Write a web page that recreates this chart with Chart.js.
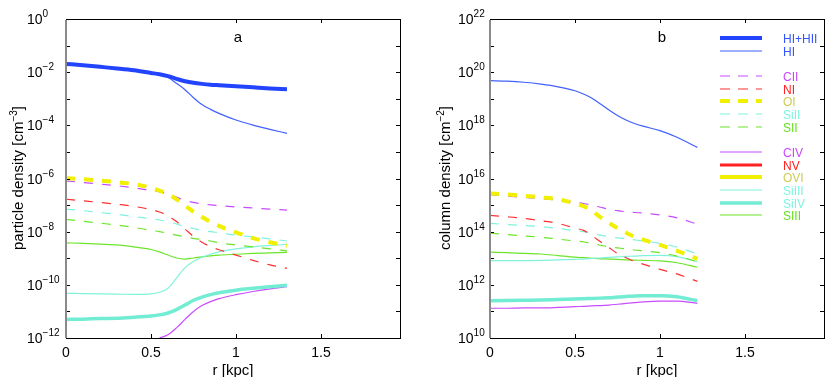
<!DOCTYPE html>
<html>
<head>
<meta charset="utf-8">
<script src="https://cdn.jsdelivr.net/npm/chart.js@4.4.1/dist/chart.umd.min.js"></script>
<style>
html, body { margin: 0; padding: 0; background: #fff; }
body { width: 830px; height: 377px; overflow: hidden; position: relative; font-family: 'Liberation Sans', Arial, sans-serif; }
.panel { position: absolute; top: 0; width: 415px; height: 390px; }
.panel canvas { display: block; }
#wrapA { left: 0; }
#wrapB { left: 415px; }
#overlay { position: absolute; left: 0; top: 0; pointer-events: none; }
</style>
</head>
<body>
<div class="panel" id="wrapA"><canvas id="chartA" width="415" height="390"></canvas></div>
<div class="panel" id="wrapB"><canvas id="chartB" width="415" height="390"></canvas></div>
<svg id="overlay" width="830" height="377" xmlns="http://www.w3.org/2000/svg"></svg>
<script>
// r [kpc] grids
const rA = [0, 0.1, 0.2, 0.3, 0.4, 0.5, 0.55, 0.6, 0.65, 0.7, 0.75, 0.8, 0.85, 0.9, 1.0, 1.1, 1.2, 1.3];
const rB = [0, 0.1, 0.2, 0.3, 0.4, 0.5, 0.55, 0.6, 0.65, 0.7, 0.75, 0.8, 0.85, 0.9, 1.0, 1.1, 1.22];

// panel a: log10 particle density [cm^-3]
const aHIHII = [-1.69, -1.74, -1.80, -1.86, -1.93, -2.03, -2.08, -2.15, -2.25, -2.34, -2.40, -2.44, -2.47, -2.49, -2.53, -2.57, -2.61, -2.64];
const aHI    = [-1.69, -1.74, -1.80, -1.86, -1.93, -2.03, -2.09, -2.20, -2.42, -2.66, -2.96, -3.22, -3.40, -3.55, -3.80, -3.99, -4.15, -4.30];
const aCII   = [-6.09, -6.15, -6.21, -6.27, -6.35, -6.45, -6.50, -6.58, -6.70, -6.82, -6.90, -6.95, -6.99, -7.02, -7.07, -7.11, -7.15, -7.19];
const aNI    = [-6.78, -6.84, -6.90, -6.97, -7.05, -7.17, -7.26, -7.40, -7.62, -7.90, -8.18, -8.40, -8.56, -8.68, -8.88, -9.08, -9.25, -9.38];
const aOI    = [-5.99, -6.03, -6.08, -6.14, -6.21, -6.35, -6.46, -6.60, -6.78, -7.02, -7.25, -7.45, -7.63, -7.78, -8.03, -8.24, -8.40, -8.53];
const aSiII  = [-7.15, -7.21, -7.28, -7.35, -7.43, -7.52, -7.56, -7.62, -7.71, -7.81, -7.88, -7.95, -8.00, -8.04, -8.13, -8.20, -8.27, -8.35];
const aSII   = [-7.54, -7.61, -7.68, -7.75, -7.84, -7.95, -8.00, -8.06, -8.13, -8.19, -8.25, -8.30, -8.35, -8.42, -8.50, -8.57, -8.65, -8.72];
const aCIV   = [null, null, null, null, null, null, -12.0, -11.88, -11.62, -11.30, -11.00, -10.78, -10.63, -10.52, -10.37, -10.25, -10.15, -10.07];
const aSiIII = [-10.32, -10.33, -10.34, -10.35, -10.36, -10.34, -10.28, -10.13, -9.75, -9.35, -9.12, -8.96, -8.85, -8.76, -8.65, -8.57, -8.52, -8.48];
const aSiIV  = [-11.30, -11.29, -11.27, -11.26, -11.22, -11.17, -11.13, -11.06, -10.93, -10.76, -10.58, -10.46, -10.37, -10.30, -10.20, -10.13, -10.07, -10.02];
const aSIII  = [-8.42, -8.44, -8.47, -8.50, -8.57, -8.67, -8.76, -8.88, -8.99, -9.03, -8.99, -8.95, -8.91, -8.88, -8.85, -8.82, -8.80, -8.78];

// panel b: log10 column density [cm^-2]
const bHI    = [19.68, 19.66, 19.62, 19.55, 19.45, 19.30, 19.18, 19.02, 18.80, 18.58, 18.37, 18.20, 18.07, 17.97, 17.80, 17.55, 17.17];
const bCII   = [15.39, 15.34, 15.29, 15.24, 15.18, 15.10, 15.06, 15.00, 14.92, 14.84, 14.79, 14.75, 14.72, 14.70, 14.63, 14.52, 14.28];
const bNI    = [14.61, 14.56, 14.50, 14.41, 14.31, 14.13, 14.05, 13.85, 13.62, 13.40, 13.18, 13.02, 12.88, 12.78, 12.58, 12.41, 12.13];
const bOI    = [15.44, 15.40, 15.35, 15.29, 15.22, 15.06, 14.96, 14.78, 14.54, 14.33, 14.13, 13.96, 13.81, 13.70, 13.50, 13.28, 12.98];
const bSiII  = [14.31, 14.27, 14.23, 14.19, 14.12, 14.04, 14.00, 13.93, 13.87, 13.81, 13.77, 13.73, 13.69, 13.65, 13.56, 13.42, 13.16];
const bSII   = [13.94, 13.89, 13.84, 13.79, 13.72, 13.65, 13.62, 13.55, 13.49, 13.43, 13.39, 13.35, 13.31, 13.28, 13.21, 13.08, 12.87];
const bCIV   = [11.12, 11.12, 11.13, 11.13, 11.15, 11.18, 11.19, 11.21, 11.22, 11.24, 11.27, 11.30, 11.33, 11.36, 11.39, 11.39, 11.30];
const bSiIII = [12.91, 12.91, 12.91, 12.92, 12.94, 12.96, 12.97, 12.99, 13.01, 13.03, 13.05, 13.07, 13.08, 13.10, 13.11, 13.06, 12.87];
const bSiIV  = [11.40, 11.41, 11.42, 11.43, 11.45, 11.47, 11.48, 11.49, 11.50, 11.51, 11.54, 11.56, 11.58, 11.59, 11.59, 11.55, 11.40];
const bSIII  = [13.23, 13.21, 13.18, 13.16, 13.10, 13.04, 13.02, 13.00, 12.98, 12.97, 12.96, 12.94, 12.93, 12.92, 12.90, 12.83, 12.66];

// axis ticks (y labels are 10^exp, only every second decade labelled)
const xTicks = [0, 0.5, 1, 1.5];
const yExpA = [-12, -11, -10, -9, -8, -7, -6, -5, -4, -3, -2, -1, 0];
const yLabA = ['−12', '', '−10', '', '−8', '', '−6', '', '−4', '', '−2', '', '0'];
const yExpB = [10, 11, 12, 13, 14, 15, 16, 17, 18, 19, 20, 21, 22];
const yLabB = ['10', '', '12', '', '14', '', '16', '', '18', '', '20', '', '22'];

// legend entries
const legendKeys = ['HIHII', 'HI', 'CII', 'NI', 'OI', 'SiII', 'SII', 'CIV', 'NV', 'OVI', 'SiIII', 'SiIV', 'SIII'];
const legendText = ['HI+HII', 'HI', 'CII', 'NI', 'OI', 'SiII', 'SII', 'CIV', 'NV', 'OVI', 'SiIII', 'SiIV', 'SIII'];

const styles = {
    HIHII: { color: '#2244ff', width: 4,   dash: [],     text: '#3355ff' },
    HI:    { color: '#4060ff', width: 1.2, dash: [],     text: '#3355ff' },
    CII:   { color: '#c84cff', width: 1.2, dash: [9, 9], text: '#cc44ff' },
    NI:    { color: '#ff3030', width: 1.2, dash: [9, 9], text: '#ff2020' },
    OI:    { color: '#f0f000', width: 4,   dash: [9, 9], text: '#cfcb55' },
    SiII:  { color: '#80f2dc', width: 1.2, dash: [9, 9], text: '#80f4e0' },
    SII:   { color: '#6be52a', width: 1.2, dash: [9, 9], text: '#66e020' },
    CIV:   { color: '#c84cff', width: 1.2, dash: [],     text: '#cc44ff' },
    NV:    { color: '#ff2020', width: 3,   dash: [],     text: '#ff2020' },
    OVI:   { color: '#f0f000', width: 4,   dash: [],     text: '#cfcb55' },
    SiIII: { color: '#80f2dc', width: 1.2, dash: [],     text: '#80f4e0' },
    SiIV:  { color: '#72ecd2', width: 3.5, dash: [],     text: '#80f4e0' },
    SIII:  { color: '#6be52a', width: 1.2, dash: [],     text: '#66e020' }
};

Chart.defaults.font.family = "'Liberation Sans', Arial, sans-serif";
Chart.defaults.color = '#000';

function makeSet(xs, logs, key) {
    const s = styles[key];
    return {
        label: key,
        data: xs.map((x, i) => ({ x: x, y: logs[i] == null ? null : Math.pow(10, logs[i]) })),
        borderColor: s.color,
        borderWidth: s.width,
        borderDash: s.dash,
        borderCapStyle: 'butt',
        pointRadius: 0,
        fill: false,
        cubicInterpolationMode: 'monotone'
    };
}

// inward tick marks and box, matlab style
const framePlugin = {
    id: 'frameBox',
    afterDraw(chart) {
        const ctx = chart.ctx;
        const a = chart.chartArea;
        const xs = chart.scales.x, ys = chart.scales.y;
        ctx.save();
        ctx.setLineDash([]);
        ctx.strokeStyle = '#000';
        ctx.lineWidth = 1;
        ctx.beginPath();
        xTicks.forEach(v => {
            const px = Math.round(xs.getPixelForValue(v)) + 0.5;
            ctx.moveTo(px, a.bottom); ctx.lineTo(px, a.bottom - 4);
            ctx.moveTo(px, a.top); ctx.lineTo(px, a.top + 4);
        });
        ys.ticks.forEach(t => {
            const py = Math.round(ys.getPixelForValue(t.value)) + 0.5;
            ctx.moveTo(a.left, py); ctx.lineTo(a.left + 4, py);
            ctx.moveTo(a.right, py); ctx.lineTo(a.right - 4, py);
        });
        ctx.stroke();
        ctx.strokeRect(Math.round(a.left) + 0.5, Math.round(a.top) + 0.5, Math.round(a.right - a.left), Math.round(a.bottom - a.top));
        ctx.strokeStyle = '#8a8a8a';
        ctx.lineWidth = 2;
        ctx.beginPath();
        ctx.moveTo(Math.round(a.left), a.top + 1);
        ctx.lineTo(Math.round(a.left), a.bottom);
        ctx.stroke();
        ctx.restore();
    }
};

function makeChart(id, datasets, yMin, yMax, yExp, axisW, rightPad) {
    return new Chart(document.getElementById(id), {
        type: 'line',
        data: { datasets: datasets },
        options: {
            responsive: false,
            animation: false,
            events: [],
            layout: { padding: { left: 0, right: rightPad, top: 19, bottom: 0 } },
            plugins: { legend: { display: false }, tooltip: { enabled: false } },
            scales: {
                x: {
                    type: 'linear',
                    min: 0,
                    max: 1.965,
                    afterBuildTicks: s => { s.ticks = xTicks.map(v => ({ value: v })); },
                    afterFit: s => { s.height = 52; },
                    grid: { display: false, drawTicks: false },
                    border: { display: false },
                    ticks: { font: { size: 14 }, padding: 7, maxRotation: 0, autoSkip: false, callback: v => String(v) },
                    title: { display: true, text: 'r [kpc]', font: { size: 15 }, padding: { top: 0, bottom: 10 } }
                },
                y: {
                    type: 'logarithmic',
                    min: yMin,
                    max: yMax,
                    afterBuildTicks: s => { s.ticks = yExp.map(e => ({ value: Math.pow(10, e) })); },
                    afterFit: s => { s.width = axisW; },
                    grid: { display: false, drawTicks: false },
                    border: { display: false },
                    ticks: { display: false }
                }
            }
        },
        plugins: [framePlugin]
    });
}

const chartA = makeChart('chartA', [
    makeSet(rA, aHIHII, 'HIHII'),
    makeSet(rA, aHI, 'HI'),
    makeSet(rA, aOI, 'OI'),
    makeSet(rA, aCII, 'CII'),
    makeSet(rA, aNI, 'NI'),
    makeSet(rA, aSiII, 'SiII'),
    makeSet(rA, aSII, 'SII'),
    makeSet(rA, aSiIV, 'SiIV'),
    makeSet(rA, aCIV, 'CIV'),
    makeSet(rA, aSiIII, 'SiIII'),
    makeSet(rA, aSIII, 'SIII')
], 1e-12, 1, yExpA, 66, 15);

const chartB = makeChart('chartB', [
    makeSet(rB, bHI, 'HI'),
    makeSet(rB, bOI, 'OI'),
    makeSet(rB, bCII, 'CII'),
    makeSet(rB, bNI, 'NI'),
    makeSet(rB, bSiII, 'SiII'),
    makeSet(rB, bSII, 'SII'),
    makeSet(rB, bSiIV, 'SiIV'),
    makeSet(rB, bCIV, 'CIV'),
    makeSet(rB, bSiIII, 'SiIII'),
    makeSet(rB, bSIII, 'SIII')
], 1e10, 1e22, yExpB, 75, 6);

// panel letters, y tick labels, y titles and legend as svg text
const svg = document.getElementById('overlay');
const NS = 'http://www.w3.org/2000/svg';
const FONT = "'Liberation Sans', Arial, sans-serif";
function el(name, attrs, text) {
    const e = document.createElementNS(NS, name);
    Object.keys(attrs).forEach(k => e.setAttribute(k, attrs[k]));
    if (text != null) e.textContent = text;
    return e;
}
function addText(x, y, str, size, color, anchor) {
    const t = el('text', { x: x, y: y, 'font-family': FONT, 'font-size': size, fill: color, 'text-anchor': anchor, 'dominant-baseline': 'central' }, str);
    svg.appendChild(t);
    return t;
}
function addPow(x, y, exp) {
    const t = el('text', { x: x, y: y + 5, 'font-family': FONT, 'font-size': 14, fill: '#000' });
    t.appendChild(el('tspan', {}, '10'));
    t.appendChild(el('tspan', { 'font-size': 10, dy: -7 }, exp));
    svg.appendChild(t);
}
function yLabels(chart, offsetX, labelX, exps, labs) {
    const ys = chart.scales.y;
    exps.forEach((e, i) => {
        if (!labs[i]) return;
        addPow(offsetX + labelX, Math.round(ys.getPixelForValue(Math.pow(10, e))), labs[i]);
    });
}
function addYTitle(cx, cy, main, exp) {
    const t = el('text', { transform: 'translate(' + cx + ',' + cy + ') rotate(-90)', 'font-family': FONT, 'font-size': 15, fill: '#000', 'text-anchor': 'middle', y: 5 });
    t.appendChild(el('tspan', {}, main));
    t.appendChild(el('tspan', { 'font-size': 10, dy: -6 }, exp));
    t.appendChild(el('tspan', { dy: 6 }, ']'));
    svg.appendChild(t);
}

yLabels(chartA, 0, 27, yExpA, yLabA);
yLabels(chartB, 415, 43, yExpB, yLabB);
addText(238, 36, 'a', 15, '#000', 'middle');
addText(662, 36, 'b', 15, '#000', 'middle');
addYTitle(18, 178, 'particle density [cm', '−3');
addYTitle(445, 178, 'column density [cm', '−2');

const legendY = [38, 51, 76, 89, 101, 114, 127, 152, 165, 177, 190, 203, 215];
legendKeys.forEach((k, i) => {
    const s = styles[k];
    const attrs = { x1: 720, x2: 762, y1: legendY[i], y2: legendY[i], stroke: s.color, 'stroke-width': s.width };
    if (s.dash.length) attrs['stroke-dasharray'] = '10 8';
    svg.appendChild(el('line', attrs));
    addText(783, legendY[i] + 1, legendText[i], 12, s.text, 'start');
});
</script>
</body>
</html>
